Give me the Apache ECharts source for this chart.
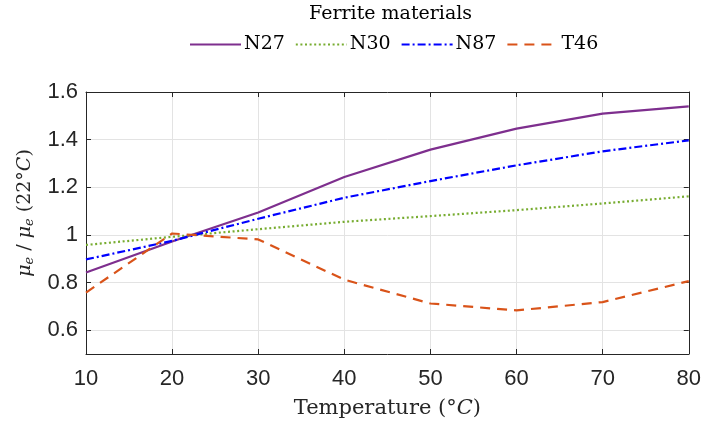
<!DOCTYPE html>
<html><head><meta charset="utf-8">
<script src="https://cdn.jsdelivr.net/npm/echarts@6/dist/echarts.min.js"></script>
<style>html,body{margin:0;padding:0;background:#fff}#c{width:704px;height:428px}</style>
</head><body><div id="c"></div>
<script>
const temperatures = [10, 20, 30, 40, 50, 60, 70, 80];
const n27 = [0.842, 0.972, 1.094, 1.243, 1.358, 1.446, 1.509, 1.540];
const n30 = [0.958, 0.992, 1.024, 1.055, 1.079, 1.104, 1.132, 1.162];
const n87 = [0.897, 0.975, 1.068, 1.156, 1.226, 1.292, 1.351, 1.397];
const t46 = [0.758, 1.006, 0.981, 0.812, 0.712, 0.683, 0.718, 0.806];
const yTicks = [0.6, 0.8, 1.0, 1.2, 1.4, 1.6];
const seriesNames = ['N27', 'N30', 'N87', 'T46'];

const axisColor = '#262626';
const gridColor = '#e3e3e3';
const serif = 'DejaVu Serif';
const sans = 'Liberation Sans';

function pairs(v){ return temperatures.map((t,i)=>[t, v[i]]); }

const styles = [
  {color:'#7E2F8E', type:'solid'},
  {color:'#77AC30', type:[2,2.6]},
  {color:'#0000FF', type:[8,3,2,3]},
  {color:'#D95319', type:[10,7]}
];
const dataSets = [n27, n30, n87, t46];

const xBase = {
  type:'value', min:10, max:80, interval:10,
  axisLine:{show:true, onZero:false, lineStyle:{color:axisColor, width:1}},
  axisTick:{show:true, inside:true, length:5, lineStyle:{color:axisColor}},
  splitLine:{show:false}
};
const yBase = {
  type:'value', min:0.5, max:1.6,
  axisLine:{show:true, onZero:false, lineStyle:{color:axisColor, width:1}},
  axisTick:{show:true, inside:true, length:5, customValues:yTicks, lineStyle:{color:axisColor}},
  splitLine:{show:false}
};

const chart = echarts.init(document.getElementById('c'), null, {renderer:'canvas'});
chart.setOption({
  animation:false,
  backgroundColor:'#fff',
  title:{
    text:'Ferrite materials', left:304, top:0,
    textStyle:{fontFamily:serif, fontSize:19, fontWeight:'normal', color:'#000'}
  },
  legend:{
    left:184, top:30, itemWidth:51, itemHeight:14, itemGap:10,
    itemStyle:{opacity:0},
    textStyle:{fontFamily:serif, fontSize:19, color:'#000', padding:[0,0,0,-2]},
    data:seriesNames
  },
  grid:{left:86, top:92, right:13, bottom:74, containLabel:false},
  xAxis:[
    Object.assign({}, xBase, {
      position:'bottom',
      name:'Temperature (°{i|C})', nameLocation:'middle', nameGap:44,
      nameTextStyle:{fontFamily:serif, fontSize:21, color:axisColor,
        rich:{i:{fontFamily:serif, fontSize:21, fontStyle:'italic', color:axisColor}}},
      axisLabel:{show:true, margin:14, fontFamily:sans, fontSize:22, color:axisColor},
      splitLine:{show:true, lineStyle:{color:gridColor, width:1}}
    }),
    Object.assign({}, xBase, {position:'top', axisLabel:{show:false}})
  ],
  yAxis:[
    Object.assign({}, yBase, {
      position:'left',
      name:'{i|μ}{s|e} / {i|μ}{s|e} (22°{i|C})', nameLocation:'middle', nameGap:47, nameRotate:90,
      nameTextStyle:{fontFamily:serif, fontSize:19, color:axisColor, padding:[0,0,0,20],
        rich:{
          i:{fontFamily:serif, fontSize:19, fontStyle:'italic', color:axisColor},
          s:{fontFamily:serif, fontSize:13, fontStyle:'italic', color:axisColor, padding:[9,0,0,0]}
        }},
      axisLabel:{show:true, margin:8, customValues:yTicks, fontFamily:sans, fontSize:22, color:axisColor},
      splitLine:{show:true, lineStyle:{color:gridColor, width:1}}
    }),
    Object.assign({}, yBase, {position:'right', axisLabel:{show:false}})
  ],
  series: seriesNames.map((n,i)=>({
    name:n, type:'line', xAxisIndex:0, yAxisIndex:0,
    data:pairs(dataSets[i]), symbol:'none', smooth:false,
    lineStyle:{color:styles[i].color, width:2.2, type:styles[i].type},
    itemStyle:{color:styles[i].color}
  }))
});
</script></body></html>
